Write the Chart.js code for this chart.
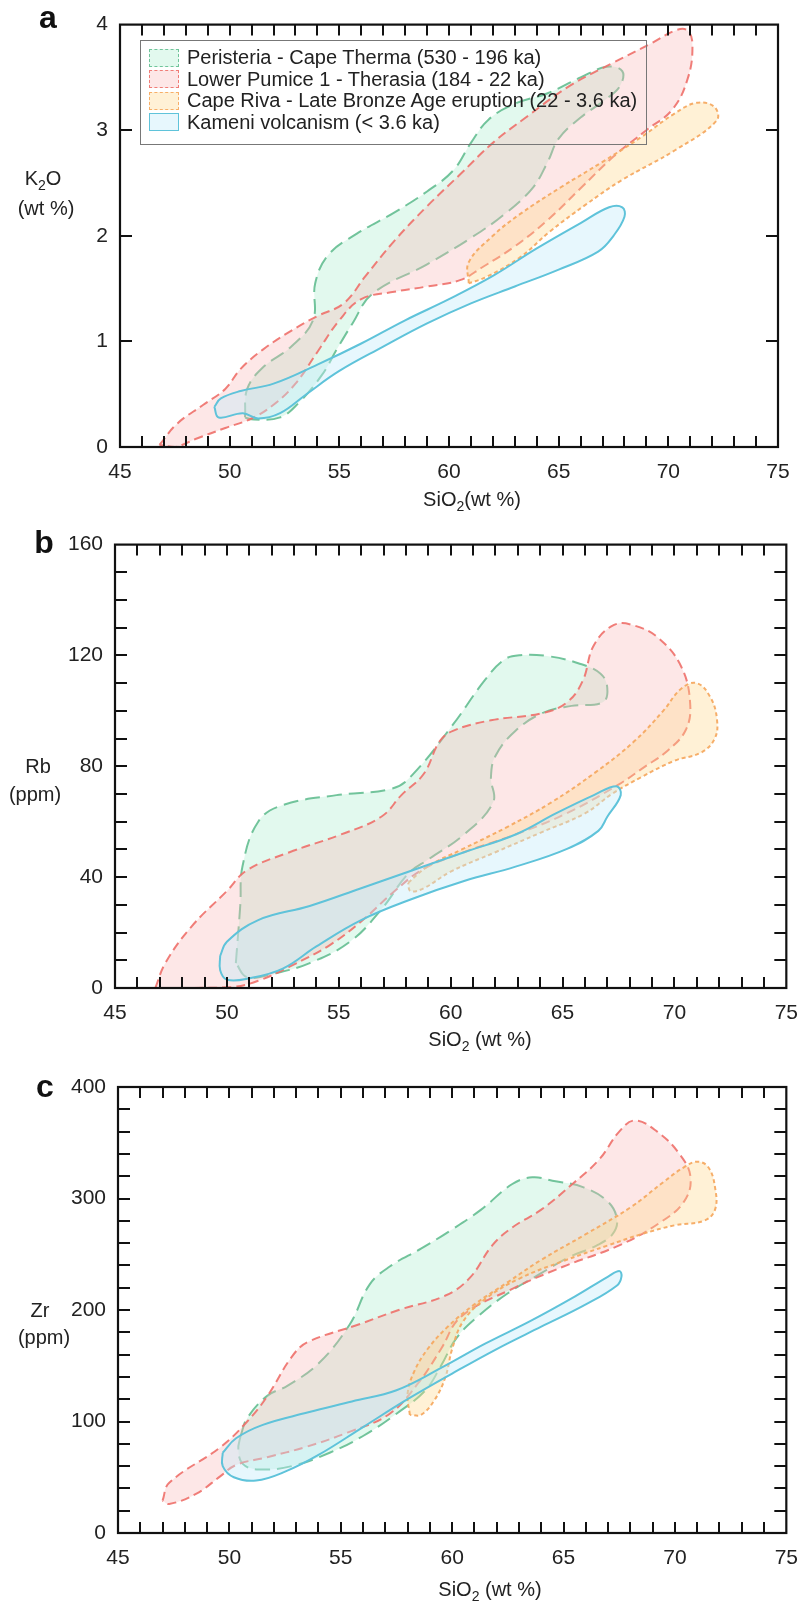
<!DOCTYPE html>
<html>
<head>
<meta charset="utf-8">
<title>Santorini variation diagrams</title>
<script src="https://cdn.jsdelivr.net/npm/chart.js@4.4.1/dist/chart.umd.min.js"></script>
<style>
  body { margin: 0; background: #fff; }
  #fig { position: relative; width: 811px; height: 1604px; font-family: "Liberation Sans", Arial, sans-serif; color: #222; }
  #fig canvas { position: absolute; left: 0; }
  .txt { position: absolute; font-size: 20px; white-space: nowrap; transform: translate(-50%, -50%); line-height: 1; }
  .letter { position: absolute; font-size: 32px; font-weight: bold; transform: translate(-50%, -50%); line-height: 1; color: #111; }
  sub { font-size: 70%; vertical-align: -0.35em; line-height: 0; }
  #legend { position: absolute; left: 140px; top: 40px; width: 507px; height: 105px; border: 1.5px solid #777; box-sizing: border-box; padding-top: 6px; }
  .item { display: flex; align-items: center; height: 21.5px; font-size: 20px; color: #222; }
  .sw { width: 30px; height: 18px; margin: 0 8px 0 8px; box-sizing: border-box; border-width: 1.5px; flex: none; }
</style>
</head>
<body>
<div id="fig">
  <canvas id="chartA" width="811" height="520" style="top:0px"></canvas>
  <canvas id="chartB" width="811" height="520" style="top:520px"></canvas>
  <canvas id="chartC" width="811" height="564" style="top:1040px"></canvas>

  <div class="letter" style="left:48px; top:17px">a</div>
  <div class="letter" style="left:44px; top:542px">b</div>
  <div class="letter" style="left:45px; top:1086px">c</div>

  <div class="txt" style="left:43px; top:178px">K<sub>2</sub>O</div>
  <div class="txt" style="left:46px; top:208px">(wt %)</div>
  <div class="txt" style="left:38px; top:766px">Rb</div>
  <div class="txt" style="left:35px; top:794px">(ppm)</div>
  <div class="txt" style="left:40px; top:1310px">Zr</div>
  <div class="txt" style="left:44px; top:1337px">(ppm)</div>

  <div class="txt" style="left:472px; top:499px">SiO<sub>2</sub>(wt %)</div>
  <div class="txt" style="left:480px; top:1039px">SiO<sub>2</sub> (wt %)</div>
  <div class="txt" style="left:490px; top:1589px">SiO<sub>2</sub> (wt %)</div>

  <div id="legend"></div>
</div>

<script>
// Groups (legend order)
var groupNames = [
    'Peristeria - Cape Therma (530 - 196 ka)',
    'Lower Pumice 1 - Therasia (184 - 22 ka)',
    'Cape Riva - Late Bronze Age eruption (22 - 3.6 ka)',
    'Kameni volcanism (< 3.6 ka)'
];

// Axis ticks
var sio2Labels = [45, 50, 55, 60, 65, 70, 75];
var k2oLabels = [0, 1, 2, 3, 4];
var rbLabels = [0, 40, 80, 120, 160];
var zrLabels = [0, 100, 200, 300, 400];

// Panel a: K2O vs SiO2 field outlines [SiO2, K2O]
var k2oPeristeria = [[50.7,0.28],[50.8,0.55],[51.5,0.75],[52.8,0.95],[53.8,1.2],[53.9,1.55],[54.5,1.82],[55.8,2.02],[57.5,2.22],[59,2.42],[60.2,2.62],[61,2.88],[61.8,3.1],[63,3.25],[64.5,3.35],[66,3.5],[67.2,3.6],[67.9,3.56],[67.8,3.42],[67.2,3.3],[66,3.12],[65,2.92],[64.5,2.7],[63.8,2.45],[62.5,2.2],[61,1.98],[59,1.73],[56.5,1.45],[55.6,1.17],[54.9,0.93],[54.2,0.68],[53.2,0.43],[52.3,0.28],[51.1,0.26],[50.7,0.28]];
var k2oLowerPumice = [[46.8,0.02],[47.6,0.22],[48.8,0.4],[49.8,0.55],[50.5,0.74],[51.5,0.92],[52.8,1.1],[54,1.24],[55.2,1.36],[56.2,1.62],[57.5,1.95],[59,2.28],[60.5,2.58],[62,2.88],[63.5,3.12],[65.5,3.42],[67.5,3.64],[69.2,3.82],[70.4,3.95],[70.9,3.94],[71.1,3.8],[70.9,3.5],[70.2,3.2],[69,3.0],[67.5,2.75],[66,2.45],[64.5,2.15],[63,1.9],[61.5,1.7],[60.5,1.58],[59,1.52],[57.5,1.47],[56,1.4],[55,1.2],[54,0.9],[53,0.6],[52,0.4],[51,0.27],[49.8,0.18],[48.5,0.08],[47.5,0.0],[46.8,0.02]];
var k2oCapeRiva = [[60.9,1.55],[60.9,1.75],[62.0,2.0],[63.2,2.2],[65.1,2.46],[67,2.7],[68.8,2.94],[70.3,3.16],[71.3,3.26],[72.1,3.22],[72.2,3.09],[70.3,2.81],[67.9,2.53],[66.2,2.29],[64.6,2.04],[63.2,1.79],[61.7,1.61],[60.9,1.55]];
var k2oKameni = [[49.3,0.38],[49.6,0.46],[50.5,0.53],[52,0.6],[54,0.78],[56,0.98],[58,1.2],[60,1.4],[62,1.62],[64,1.88],[66,2.12],[67.3,2.27],[67.9,2.27],[68,2.18],[67.5,2.0],[66.8,1.85],[65,1.68],[63,1.52],[61,1.36],[59,1.17],[57,0.95],[55,0.72],[53.5,0.5],[52.3,0.32],[51.3,0.27],[50.6,0.32],[49.5,0.28],[49.3,0.38]];

// Panel b: Rb vs SiO2 [SiO2, Rb]
var rbPeristeria = [[50.4,9],[50.6,30],[50.7,44],[51.4,60],[52.5,66],[54.9,69.6],[57.4,72],[58.3,77],[60.1,95],[61.5,110.8],[62.4,118.5],[63.1,120.1],[64.3,119.8],[65.7,117.2],[66.7,113.4],[67.0,108.2],[66.8,103.1],[65.4,101.8],[64.1,99.2],[62.9,92.8],[62.0,83.7],[61.8,76],[61.9,67],[60.6,55.4],[59,46.4],[58.1,41.2],[56.9,28.3],[55.5,16.7],[53.7,9],[52.1,5.2],[50.9,3.9],[50.4,9]];
var rbLowerPumice = [[46.8,0],[47.25,9],[48.4,22],[50,35],[50.9,42.5],[52.8,49],[55.1,55.4],[56.9,61.8],[57.8,69.6],[58.8,77.3],[59.5,88.9],[60.1,92.8],[61.8,96.6],[64.1,99.2],[65.2,103.1],[65.9,110.8],[66.4,123.7],[67.3,131],[68.2,130.8],[69.3,126.2],[70.3,116],[70.7,103],[70.5,93],[69.6,85],[68.7,80],[67.5,73.4],[65.2,63.1],[62.9,55.4],[60.6,49],[58.8,43],[57.5,35],[56,24],[54.6,15.5],[52.8,7.7],[51.4,2.6],[50.2,0.3],[48,0],[46.8,0]];
var rbCapeRiva = [[58.1,38],[59,44],[60.5,50],[62.5,58],[64.5,67],[66.5,78],[68.2,89],[69.5,100],[70.3,108],[71,110],[71.6,105],[71.9,97],[71.8,90],[71.2,85],[70,82],[68.5,76],[67.2,70],[66,63],[64,56],[62,49],[60,42],[58.8,36],[58.2,35],[58.1,38]];
var rbKameni = [[49.7,11.6],[50,16.7],[51.4,24.5],[53.7,29.6],[56,36],[58.3,42.5],[60.6,49],[62.9,55.4],[64.7,63],[66.4,69.6],[67.4,72.8],[67.6,69.6],[67,61.8],[66.6,56.7],[65.2,50.2],[62.9,43.8],[60.6,38.6],[58.3,32.2],[56,24.5],[54,15],[52.5,7],[51,3.5],[50,3],[49.7,6.4],[49.7,11.6]];

// Panel c: Zr vs SiO2 [SiO2, Zr]
var zrPeristeria = [[50.5,87],[50.8,103],[51.7,123],[52.6,132],[54,152],[55.4,187],[56.3,223],[57.2,239],[58.6,255],[59.9,271],[61.3,290],[62.7,313],[63.6,319],[64.5,316],[65.9,310],[67,297],[67.4,281],[67.2,268],[66.5,258],[65.2,247],[64,233],[62.5,215],[61.2,195],[60.2,175],[59.5,150],[58.8,128],[57.5,107],[56,87],[54.5,72],[52.8,60],[51.3,57],[50.6,62],[50.4,75],[50.5,87]];
var zrLowerPumice = [[47,29],[47.3,45],[49.6,77],[50.8,100],[51.7,122.6],[52.8,158],[53.5,171],[55.8,187],[57.6,200],[59.7,213],[60.8,229],[61.8,258],[62.7,274],[64,290],[65.4,313],[66.6,335],[67.5,360],[68.2,370],[69.2,360],[70.2,340],[70.7,319],[70.4,297],[69.3,278],[67.5,258],[65,239],[62.7,219],[60.4,194],[59.5,165],[58.5,135],[57.2,107],[55.3,90],[53.4,77],[51.7,68],[50.3,61],[49.6,51],[48.5,35],[47.3,26],[47,29]];
var zrCapeRiva = [[58.1,106],[58,125],[58.3,145],[58.9,165],[59.8,185],[61,205],[62.5,225],[64,245],[66,268],[68,292],[69.5,315],[70.4,328],[71,333],[71.5,328],[71.8,310],[71.8,290],[71.3,280],[70,276],[68.5,268],[67,258],[65,244],[63,228],[61.5,210],[60.5,190],[60,165],[59.7,140],[59.2,119],[58.6,106],[58.1,106]];
var zrKameni = [[49.7,72],[50.3,85],[51.5,97],[53.5,108],[55.5,118],[57.5,128],[59.5,148],[61.5,170],[63.5,190],[65.5,212],[67,230],[67.5,235],[67.6,230],[67.4,222],[66,205],[64,185],[62,165],[60,143],[58,120],[56,95],[54,70],[52.5,55],[51.2,47],[50.2,50],[49.7,60],[49.7,72]];

// styles per group
var lineColors = ['rgba(100,190,145,0.9)', 'rgba(238,112,106,0.9)', 'rgba(246,170,98,0.95)', 'rgba(95,195,218,1)'];
var fillColors = ['rgba(180,240,210,0.38)', 'rgba(250,185,185,0.34)', 'rgba(255,215,140,0.36)', 'rgba(195,235,250,0.4)'];
var dashes = [[15, 7], [9, 5], [4, 3], []];

function steps(from, to, step) {
    var out = [];
    for (var v = from; v <= to + 1e-9; v += step) out.push(v);
    return out;
}

// inward ticks on all four sides plus the frame
const frameTicks = {
    id: 'frameTicks',
    afterDatasetsDraw(chart, args, opts) {
        const ctx = chart.ctx;
        const a = chart.chartArea;
        const xs = chart.scales.x, ys = chart.scales.y;
        ctx.save();
        ctx.strokeStyle = '#111';
        ctx.lineWidth = 2;
        ctx.beginPath();
        opts.xMarks.forEach(function (v) {
            const px = Math.round(xs.getPixelForValue(v));
            ctx.moveTo(px, a.bottom); ctx.lineTo(px, a.bottom - 11);
            ctx.moveTo(px, a.top); ctx.lineTo(px, a.top + 11);
        });
        opts.yMarks.forEach(function (v) {
            const py = Math.round(ys.getPixelForValue(v));
            ctx.moveTo(a.left, py); ctx.lineTo(a.left + 12, py);
            ctx.moveTo(a.right, py); ctx.lineTo(a.right - 12, py);
        });
        ctx.stroke();
        ctx.lineWidth = 2.2;
        ctx.strokeRect(a.left, a.top, a.right - a.left, a.bottom - a.top);
        ctx.restore();
    }
};

function buildPanel(canvasId, fields, yLabels, yMarks, box) {
    var yMax = yLabels[yLabels.length - 1];
    var datasets = fields.map(function (pts, i) {
        return {
            label: groupNames[i],
            data: pts.map(function (p) { return { x: p[0], y: p[1] }; }),
            showLine: true,
            fill: 'shape',
            borderColor: lineColors[i],
            backgroundColor: fillColors[i],
            borderDash: dashes[i],
            borderWidth: 2,
            tension: 0.4,
            pointRadius: 0,
            order: 4 - i
        };
    });
    return new Chart(document.getElementById(canvasId), {
        type: 'scatter',
        data: { datasets: datasets },
        options: {
            responsive: false,
            animation: false,
            events: [],
            layout: { padding: box.pad },
            plugins: {
                legend: { display: false },
                tooltip: { enabled: false },
                frameTicks: { xMarks: steps(46, 74, 1), yMarks: yMarks }
            },
            scales: {
                x: {
                    type: 'linear', min: 45, max: 75,
                    afterBuildTicks: function (s) { s.ticks = sio2Labels.map(function (v) { return { value: v }; }); },
                    ticks: { color: '#222', padding: 13, font: { family: 'Liberation Sans', size: 21 } },
                    grid: { display: false, drawTicks: false },
                    border: { display: false },
                    afterFit: function (s) { s.height = box.xh; }
                },
                y: {
                    type: 'linear', min: 0, max: yMax,
                    afterBuildTicks: function (s) { s.ticks = yLabels.map(function (v) { return { value: v }; }); },
                    ticks: { color: '#222', padding: 12, font: { family: 'Liberation Sans', size: 21 } },
                    grid: { display: false, drawTicks: false },
                    border: { display: false },
                    afterFit: function (s) { s.width = box.yw; }
                }
            }
        },
        plugins: [frameTicks]
    });
}

buildPanel('chartA', [k2oPeristeria, k2oLowerPumice, k2oCapeRiva, k2oKameni], k2oLabels, [1, 2, 3],
    { pad: { top: 16, right: 33, left: 0, bottom: 0 }, xh: 73, yw: 120 });
buildPanel('chartB', [rbPeristeria, rbLowerPumice, rbCapeRiva, rbKameni], rbLabels, steps(10, 150, 10),
    { pad: { top: 23, right: 23, left: 0, bottom: 0 }, xh: 52, yw: 115 });
buildPanel('chartC', [zrPeristeria, zrLowerPumice, zrCapeRiva, zrKameni], zrLabels, steps(20, 380, 20),
    { pad: { top: 47, right: 14, left: 0, bottom: 0 }, xh: 71, yw: 118 });

// legend inside panel a
var legend = document.getElementById('legend');
groupNames.forEach(function (name, i) {
    var row = document.createElement('div');
    row.className = 'item';
    var sw = document.createElement('span');
    sw.className = 'sw';
    sw.style.borderStyle = i == 3 ? 'solid' : 'dashed';
    sw.style.borderColor = lineColors[i];
    sw.style.background = fillColors[i];
    row.appendChild(sw);
    row.appendChild(document.createTextNode(name));
    legend.appendChild(row);
});
</script>
</body>
</html>
